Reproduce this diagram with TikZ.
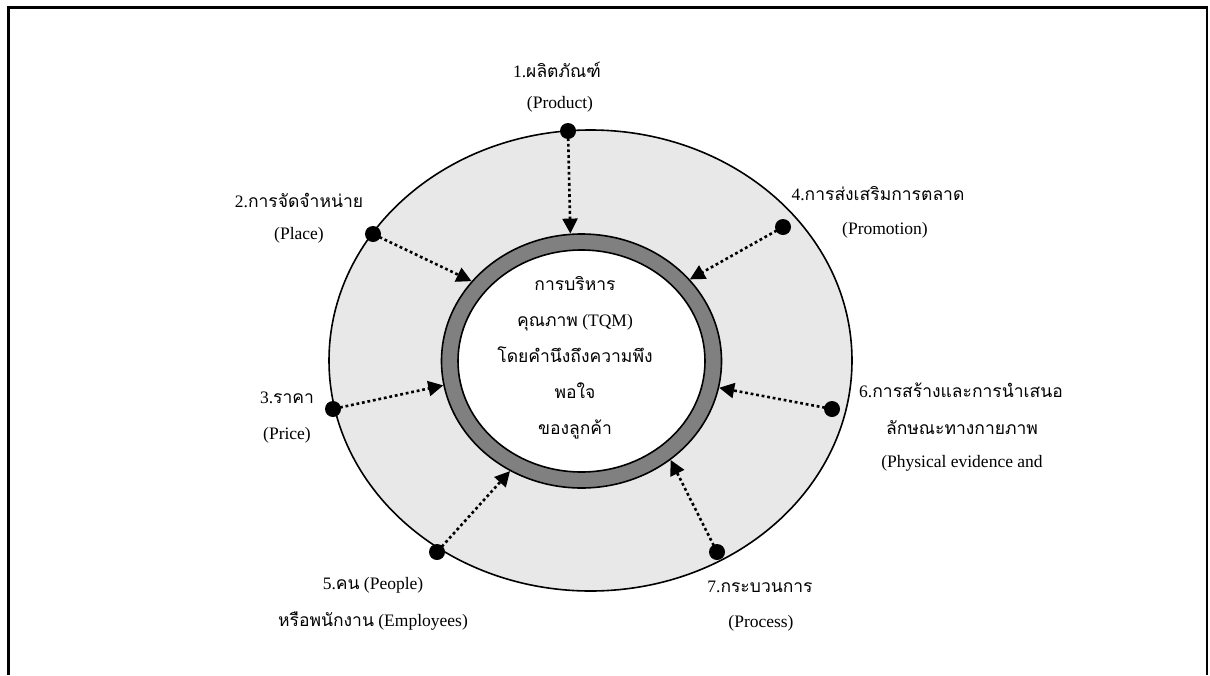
\documentclass[tikz,border=0pt]{standalone}
\usepackage{fontspec}
\setmainfont{Liberation Serif}
\newfontfamily\thaifont[Script=Thai]{Loma}
\newcommand{\tht}[1]{{\thaifont #1}}
\usetikzlibrary{arrows.meta,shapes.geometric}
\definecolor{bandfill}{HTML}{E8E8E8}
\definecolor{ringgray}{HTML}{808080}
\begin{document}
\begin{tikzpicture}[x=1pt,y=-1pt,
  label/.style={font=\fontsize{17.5}{20}\selectfont, inner sep=0pt, anchor=center},
  dot/.style={circle, fill=black, minimum size=16pt, inner sep=0pt},
  conn/.style={line width=2.6pt, dash pattern=on 2.8pt off 2.8pt,
    -{Triangle[length=15pt,width=15pt]}, shorten <=-1pt},
  ell/.style={ellipse, draw, line width=1.6pt, inner sep=0pt}]
\useasboundingbox (0,0) rectangle (1210,675);

% open frame round the figure
\draw[line width=2.6pt] (8.3,675) -- (8.3,7.3) -- (1207,7.3) -- (1207,675);

% outer band, grey ring and white core
\node[ell, fill=bandfill, minimum width=523pt, minimum height=461pt] (band) at (590.5,360.5) {};
\node[ell, fill=ringgray, minimum width=280pt, minimum height=254pt] (ring) at (581.5,361) {};
\node[ell, fill=white, minimum width=247pt, minimum height=222pt] (core) at (581.5,361) {};

% centre text
\node[label, align=center, font=\fontsize{17.5}{36}\selectfont] (tqm) at (575,358)
  {\tht{การบริหาร}\\ \tht{คุณภาพ} (TQM)\\ \tht{โดยคำนึงถึงความพึง}\\ \tht{พอใจ}\\ \tht{ของลูกค้า}};

% the seven elements
\node[dot] (d1) at (568,131) {};
\node[dot] (d2) at (373,234) {};
\node[dot] (d3) at (333,409) {};
\node[dot] (d4) at (783,227) {};
\node[dot] (d5) at (437,552) {};
\node[dot] (d6) at (832,409) {};
\node[dot] (d7) at (717,552) {};

\draw[conn] (d1) -- (ring.95.8);
\draw[conn] (d2) -- (ring.144);
\draw[conn] (d3) -- (ring.190);
\draw[conn] (d4) -- (ring.37.6);
\draw[conn] (d5) -- (ring.237);
\draw[conn] (d6) -- (ring.349);
\draw[conn] (d7) -- (ring.312);

% labels
\node[label] (l1a) at (557,70) {1.\tht{ผลิตภัณฑ์}};
\node[label] (l1b) at (560,104) {(Product)};
\node[label] (l2a) at (299,200) {2.\tht{การจัดจำหน่าย}};
\node[label] (l2b) at (299,235) {(Place)};
\node[label] (l3a) at (287,398) {3.\tht{ราคา}};
\node[label] (l3b) at (287,435) {(Price)};
\node[label] (l4a) at (878,194) {4.\tht{การส่งเสริมการตลาด}};
\node[label] (l4b) at (885,230) {(Promotion)};
\node[label] (l5a) at (373,585) {5.\tht{คน} (People)};
\node[label] (l5b) at (373,621) {\tht{หรือพนักงาน} (Employees)};
\node[label] (l6a) at (961,390) {6.\tht{การสร้างและการนำเสนอ}};
\node[label] (l6b) at (962,428) {\tht{ลักษณะทางกายภาพ}};
\node[label] (l6c) at (962,463) {(Physical evidence and};
\node[label] (l7a) at (760,587) {7.\tht{กระบวนการ}};
\node[label] (l7b) at (761,623) {(Process)};
\end{tikzpicture}
\end{document}
